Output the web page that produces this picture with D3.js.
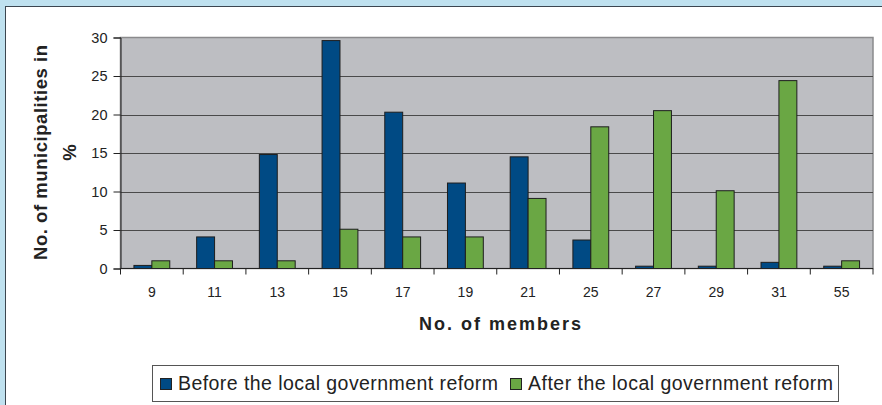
<!DOCTYPE html>
<html>
<head>
<meta charset="utf-8">
<script src="https://cdn.jsdelivr.net/npm/d3@7"></script>
<style>
  body { margin: 0; background: #bfe1ef; }
  svg { display: block; font-family: "Liberation Sans", Arial, sans-serif; }
</style>
</head>
<body>
<svg id="chart" width="882" height="405"></svg>
<script>
// chart data
const members = ["9", "11", "13", "15", "17", "19", "21", "25", "27", "29", "31", "55"];
const before = [0.4, 4.1, 14.8, 29.6, 20.3, 11.1, 14.5, 3.7, 0.3, 0.3, 0.8, 0.3];
const after = [1.0, 1.0, 1.0, 5.1, 4.1, 4.1, 9.1, 18.4, 20.5, 10.1, 24.4, 1.0];
const seriesNames = ["Before the local government reform", "After the local government reform"];
const yTicks = [0, 5, 10, 15, 20, 25, 30];

const colors = ["#004a84", "#6aa744"];

const svg = d3.select("#chart");
const margin = { left: 120.5, right: 9, top: 37.5, bottom: 136.5 };
const width = 882, height = 405;

// white panel
svg.append("rect")
    .attr("x", 5.5).attr("y", 6.5)
    .attr("width", width).attr("height", height)
    .attr("fill", "#fff")
    .attr("stroke", "#3c4650")
    .attr("stroke-width", 1);

const x = d3.scaleBand()
    .domain(members)
    .range([margin.left, width - margin.right]);

const bw = x.bandwidth() / 3.5;
const xs = d3.scaleBand()
    .domain([0, 1])
    .range([0, 2 * bw]);

const y = d3.scaleLinear()
    .domain([0, 30])
    .range([height - margin.bottom, margin.top]);

// plot area
svg.append("rect")
    .attr("x", margin.left).attr("y", margin.top)
    .attr("width", width - margin.left - margin.right)
    .attr("height", height - margin.top - margin.bottom)
    .attr("fill", "#bdbec2")
    .attr("stroke", "#8a8a8c")
    .attr("stroke-width", 1.5);

// gridlines
svg.append("g")
    .selectAll("line")
    .data(yTicks.filter(d => d > 0 && d < 30))
    .join("line")
    .attr("x1", margin.left).attr("x2", width - margin.right)
    .attr("y1", d => Math.round(y(d)) + 0.5).attr("y2", d => Math.round(y(d)) + 0.5)
    .attr("stroke", "#4a4a4a")
    .attr("stroke-width", 1);

// bars
const rows = members.map((m, i) => ({ m, vals: [before[i], after[i]] }));
const groups = svg.append("g")
    .selectAll("g")
    .data(rows)
    .join("g")
    .attr("transform", d => `translate(${x(d.m) + (x.bandwidth() - 2 * bw) / 2}, 0)`);

groups.selectAll("rect")
    .data(d => d.vals.map((v, k) => ({ v, k })))
    .join("rect")
    .attr("x", d => xs(d.k))
    .attr("y", d => y(d.v))
    .attr("width", xs.bandwidth())
    .attr("height", d => y(0) - y(d.v))
    .attr("fill", d => colors[d.k])
    .attr("stroke", "#1e1e1e")
    .attr("stroke-width", 1);

// y axis
const yAxis = d3.axisLeft(y).tickValues(yTicks).tickSize(7).tickPadding(6);
svg.append("g")
    .attr("transform", `translate(${margin.left}, 0)`)
    .call(yAxis)
    .call(g => g.select(".domain").attr("stroke", "#222"))
    .call(g => g.selectAll(".tick line").attr("stroke", "#222"))
    .call(g => g.selectAll("text").attr("font-size", 14.5).attr("fill", "#222")
        .attr("font-family", "Liberation Sans, Arial, sans-serif"));

// x axis: ticks between categories
const xAxisG = svg.append("g")
    .attr("transform", `translate(0, ${y(0)})`);
xAxisG.append("line")
    .attr("x1", margin.left).attr("x2", width - margin.right)
    .attr("stroke", "#222");
xAxisG.selectAll(".sep")
    .data(members)
    .join("line")
    .attr("class", "sep")
    .attr("x1", d => x(d) + x.bandwidth()).attr("x2", d => x(d) + x.bandwidth())
    .attr("y1", 0).attr("y2", 6)
    .attr("stroke", "#222");
xAxisG.append("line")
    .attr("x1", margin.left).attr("x2", margin.left)
    .attr("y1", 0).attr("y2", 6)
    .attr("stroke", "#222");
xAxisG.selectAll("text")
    .data(members)
    .join("text")
    .attr("x", d => x(d) + x.bandwidth() / 2)
    .attr("y", 28.5)
    .attr("text-anchor", "middle")
    .attr("font-size", 14)
    .attr("fill", "#222")
    .text(d => d);

// axis titles
svg.append("text")
    .attr("x", 500)
    .attr("y", 330)
    .attr("text-anchor", "middle")
    .attr("font-size", 18)
    .attr("font-weight", "bold")
    .attr("textLength", 162)
    .attr("fill", "#222")
    .text("No. of members");

const yTitle = svg.append("text")
    .attr("transform", `translate(47, 152.5) rotate(-90)`)
    .attr("text-anchor", "middle")
    .attr("font-size", 18.5)
    .attr("font-weight", "bold")
    .attr("fill", "#222");
yTitle.append("tspan").attr("x", 0).attr("dy", 0).attr("textLength", 215).text("No. of municipalities in");
yTitle.append("tspan").attr("x", 0).attr("dy", 29).text("%");

// legend
const legend = svg.append("g");
legend.append("rect")
    .attr("x", 152.5).attr("y", 365.5)
    .attr("width", 686).attr("height", 36)
    .attr("fill", "#fff")
    .attr("stroke", "#555");

const legendX = [160, 510];
const legendW = [320, 305];
const items = legend.selectAll("g")
    .data(seriesNames)
    .join("g")
    .attr("transform", (d, i) => `translate(${legendX[i]}, 0)`);
items.append("rect")
    .attr("x", 0.5).attr("y", 378.5)
    .attr("width", 11).attr("height", 11)
    .attr("fill", (d, i) => colors[i])
    .attr("stroke", "#222");
items.append("text")
    .attr("x", 18).attr("y", 389.5)
    .attr("font-size", 19.5)
    .attr("textLength", (d, i) => legendW[i])
    .attr("fill", "#222")
    .text(d => d);
</script>
</body>
</html>
